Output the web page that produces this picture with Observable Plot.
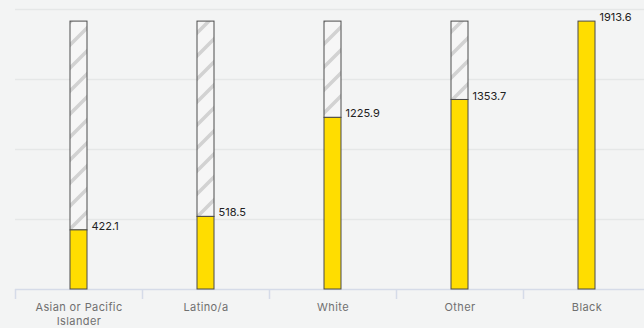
<!DOCTYPE html>
<html>
<head>
<meta charset="utf-8">
<script src="https://cdn.jsdelivr.net/npm/d3@7"></script>
<script src="https://cdn.jsdelivr.net/npm/@observablehq/plot@0.6"></script>
<style>
  html, body { margin: 0; padding: 0; background: #f3f4f4; }
  #chart svg { display: block; }
  .group-label { letter-spacing: 0.4px; }
</style>
</head>
<body>
<div id="chart"></div>
<script>
// Rates by group, smallest to largest
const groups = ["Asian or Pacific Islander", "Latino/a", "White", "Other", "Black"];
const rates = [422.1, 518.5, 1225.9, 1353.7, 1913.6];
const gridValues = [500, 1000, 1500, 2000];

const rows = groups.map((g, i) => ({group: g, rate: rates[i]}));
const peak = d3.max(rates);
const labelLines = {"Asian or Pacific Islander": "Asian or Pacific\nIslander"};

const chart = Plot.plot({
  width: 644,
  height: 328,
  marginTop: 9,
  marginBottom: 39,
  marginLeft: 15,
  marginRight: 0,
  style: {background: "#f3f4f4", fontFamily: "Inter, 'Noto Sans', sans-serif", fontSize: "11px"},
  x: {domain: groups, range: [15, 650], padding: 0, axis: null},
  y: {domain: [0, 2000], axis: null},
  marks: [
    Plot.ruleY(gridValues, {stroke: "#e5e7e7", strokeWidth: 1.5}),
    Plot.ruleY([0], {stroke: "#d5dbe8", strokeWidth: 1.5}),
    // band separators below the baseline
    Plot.ruleX(rows, {x: "group", dx: -63.5, y1: 0, y2: 0, insetBottom: -10, stroke: "#d5dbe8", strokeWidth: 1.5}),
    // remaining gap up to the highest rate
    Plot.barY(rows.filter(d => d.rate < peak), {
      x: "group", y1: "rate", y2: () => peak,
      insetLeft: 55, insetRight: 55,
      fill: "url(#hatch)", stroke: "#4d4d4d", strokeWidth: 1
    }),
    Plot.barY(rows, {
      x: "group", y1: 0, y2: "rate",
      insetLeft: 55, insetRight: 55,
      fill: "#ffdd00", stroke: "#4a4a4a", strokeWidth: 1
    }),
    Plot.text(rows, {
      x: "group", y: "rate", text: d => d.rate.toFixed(1),
      textAnchor: "start", dx: 12.5, dy: -4, fill: "#222", fontSize: 11
    }),
    Plot.text(rows, {
      x: "group", y: 0, text: d => labelLines[d.group] || d.group,
      textAnchor: "middle", lineAnchor: "top", dy: 11.5, lineHeight: 1.27,
      fill: "#707070", fontSize: 11, className: "group-label"
    })
  ]
});

// diagonal hatch used by the gap bars
const defs = d3.select(chart).insert("defs", ":first-child");
const pat = defs.append("pattern")
  .attr("id", "hatch")
  .attr("patternUnits", "userSpaceOnUse")
  .attr("width", 23)
  .attr("height", 23);
pat.append("rect").attr("width", 23).attr("height", 23).attr("fill", "#f6f6f6");
pat.append("path")
  .attr("d", "M-6,6 L6,-6 M0,23 L23,0 M17,29 L29,17")
  .attr("stroke", "#d2d2d2")
  .attr("stroke-width", 3.5);

document.getElementById("chart").appendChild(chart);
</script>
</body>
</html>
